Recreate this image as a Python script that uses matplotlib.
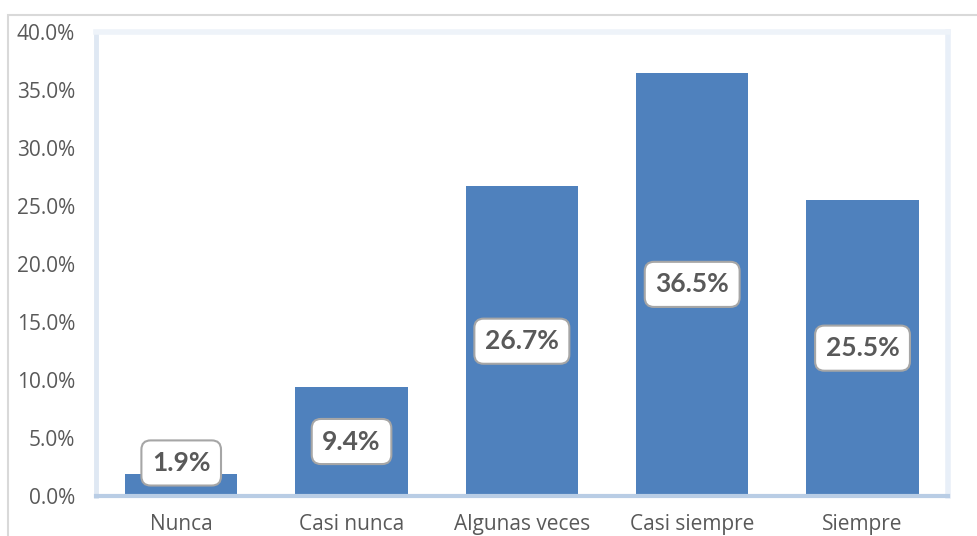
import matplotlib.pyplot as plt
from matplotlib.patches import Rectangle
from matplotlib.ticker import FuncFormatter

categories = ["Nunca", "Casi nunca", "Algunas veces", "Casi siempre", "Siempre"]
values = [1.9, 9.4, 26.7, 36.5, 25.5]
yticks = [0, 5, 10, 15, 20, 25, 30, 35, 40]

plt.rcParams['font.family'] = ['Open Sans', 'DejaVu Sans']

fig = plt.figure(figsize=(9.77, 5.36), dpi=100)
ax = fig.add_axes([0.0983, 0.0746, 0.8717, 0.8654])

# outer chart border (light gray), runs off the right and bottom edges
fig.patches.append(Rectangle((8 / 977, -0.05), 1.0, 1 - 15 / 536 + 0.05,
                             transform=fig.transFigure, fill=False,
                             edgecolor="#d9d9d9", linewidth=1.5, zorder=0))

x = range(len(categories))
ax.bar(x, values, width=0.66, color="#4f81bd", zorder=2)

for i, v in enumerate(values):
    ypos = max(v / 2, 2.85)  # small bar: label is pushed up
    ax.text(i, ypos, f"{v:.1f}%", ha="center", va="center",
            family=["Lato", "DejaVu Sans"],
            fontsize=19, fontweight="bold", color="#595959", zorder=3,
            bbox=dict(boxstyle="round,pad=0.4,rounding_size=0.35",
                      facecolor="white", edgecolor="#a6a6a6", linewidth=1.5))

ax.set_xlim(-0.5, len(categories) - 0.5)
ax.set_ylim(0, 40)
ax.set_yticks(yticks)
ax.yaxis.set_major_formatter(FuncFormatter(lambda v, p: f"{v:.1f}%"))
ax.set_xticks(list(x))
ax.set_xticklabels(categories)
ax.tick_params(axis="y", length=0, pad=15, labelsize=15, labelcolor="#595959")
ax.tick_params(axis="x", length=0, pad=13, labelsize=15, labelcolor="#595959")

ax.spines["left"].set_color("#dfe8f3")
ax.spines["left"].set_linewidth(3.5)
ax.spines["bottom"].set_color("#b9cde5")
ax.spines["bottom"].set_linewidth(3)
ax.spines["top"].set_color("#eef3f9")
ax.spines["top"].set_linewidth(4)
ax.spines["right"].set_color("#e8eff8")
ax.spines["right"].set_linewidth(4)

fig.savefig("out.png", dpi=100)
